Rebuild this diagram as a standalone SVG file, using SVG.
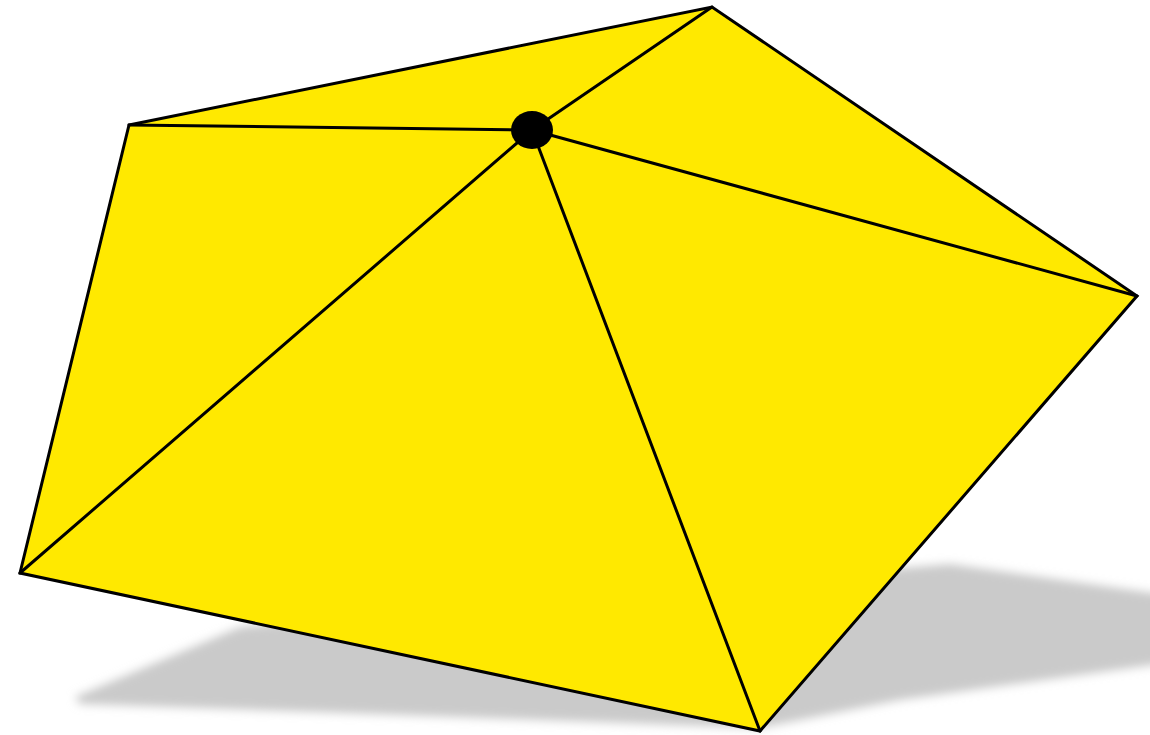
<svg xmlns="http://www.w3.org/2000/svg" width="1150" height="735" viewBox="0 0 1150 735">
<defs>
<filter id="blur" x="-10%" y="-30%" width="120%" height="160%"><feGaussianBlur stdDeviation="5"/></filter>
<style>
.edge{stroke:#000;stroke-width:3;fill:none;stroke-linejoin:miter;stroke-linecap:round}
</style>
</defs>
<rect width="1150" height="735" fill="#fff"/>
<polygon points="75,697 240,627 500,600 950,564 1160,594 1160,664 900,700 760,728 400,715 80,704" fill="#cacaca" filter="url(#blur)"/>
<g id="umbrella">
<polygon points="129,125 712,7 1137,296 760,731 20,573" fill="#ffe900" stroke="#000" stroke-width="3" stroke-linejoin="miter"/>
</g>
<g id="ribs">
<line class="edge" x1="532" y1="130" x2="129" y2="125"/>
<line class="edge" x1="532" y1="130" x2="712" y2="7"/>
<line class="edge" x1="532" y1="130" x2="1137" y2="296"/>
<line class="edge" x1="532" y1="130" x2="760" y2="731"/>
<line class="edge" x1="532" y1="130" x2="20" y2="573"/>
</g>
<g id="center">
<ellipse cx="532" cy="130" rx="21" ry="19" fill="#000"/>
</g>
</svg>
